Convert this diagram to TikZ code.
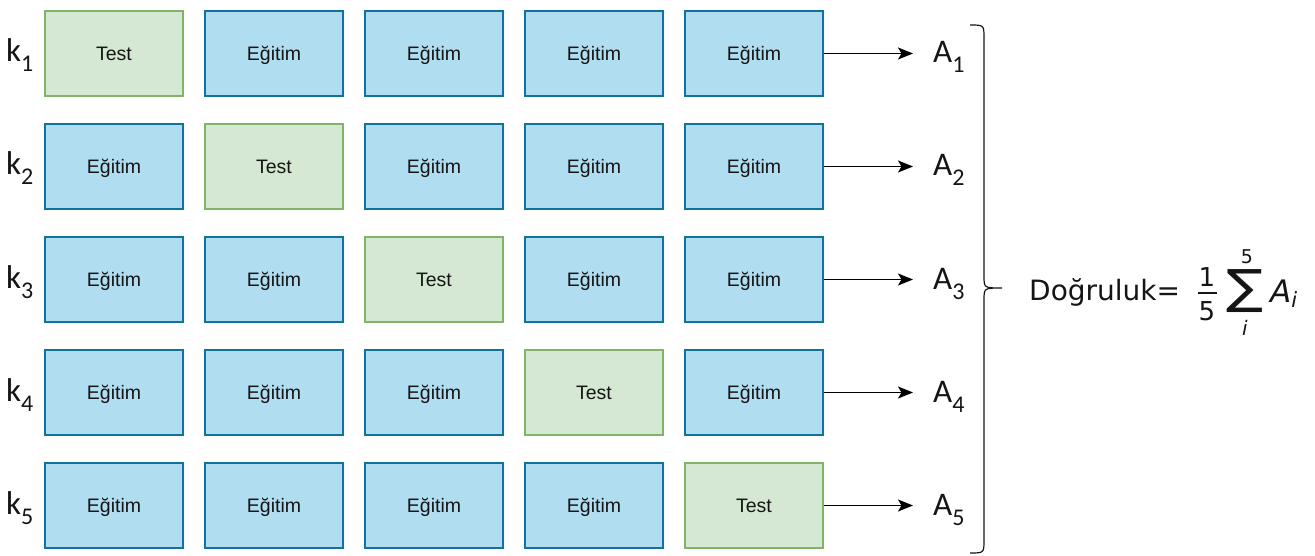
\documentclass[tikz,border=0pt]{standalone}
\usepackage{fontspec}
\usepackage{graphicx}
\setmainfont{Liberation Sans}
\newfontfamily\carl{Carlito}
\newfontfamily\dvs{DejaVu Sans}
\usetikzlibrary{arrows.meta}
\definecolor{bfill}{HTML}{B1DDF0}
\definecolor{bdraw}{HTML}{10739E}
\definecolor{gfill}{HTML}{D5E8D4}
\definecolor{gdraw}{HTML}{82B366}
\definecolor{txt}{HTML}{151515}
\newcommand{\lbl}[2]{{\carl\fontsize{33}{33}\selectfont #1\raisebox{-10pt}{\fontsize{24}{24}\selectfont #2}}}
\begin{document}
\begin{tikzpicture}[x=1pt,y=-1pt,
  cell/.style={minimum width=138pt, minimum height=85pt, line width=1.3pt, inner sep=0pt, text height=14pt, text depth=0pt, font=\fontsize{19.5}{21}\selectfont, text=txt},
  train/.style={cell, fill=bfill, draw=bdraw},
  testbox/.style={cell, fill=gfill, draw=gdraw},
  lab/.style={inner sep=0pt, anchor=base west, text=txt},
  arr/.style={line width=1.6pt, -{Stealth[length=15pt,width=12pt,inset=3.5pt]}},
]
\path[use as bounding box] (0,0) rectangle (1315,556);
\foreach \r in {1,...,5}{
  \foreach \c in {1,...,5}{
    \ifnum\r=\c
      \node[testbox] (b\r\c) at ({114+160*(\c-1)}, {53.5+113*(\r-1)}) {Test};
    \else
      \node[train] (b\r\c) at ({114+160*(\c-1)}, {53.5+113*(\r-1)}) {Eğitim};
    \fi
  }
  \node[lab] (k\r) at (6, {62+113*(\r-1)}) {\lbl{k}{\r}};
  \node[lab] (a\r) at (933, {63+113*(\r-1)}) {\lbl{A}{\r}};
  \draw[arr, shorten >=20pt] (b\r5.east) -- (b\r5.east -| a\r.west);
}
% brace
\draw[line width=1.2pt, txt] (970,25) .. controls (984,25) .. (984,38) -- (984,276)
  .. controls (984,288) .. (1002,288) .. controls (984,288) .. (984,300) -- (984,540)
  .. controls (984,553) .. (970,553);
% formula
\node[lab, font=\dvs\fontsize{28}{28}\selectfont] (dog) at (1029,300) {Doğruluk=};
\node[inner sep=0pt, text=txt, font=\dvs\fontsize{26}{26}\selectfont] (num) at (1207,277) {1};
\node[inner sep=0pt, text=txt, font=\dvs\fontsize{26}{26}\selectfont] (den) at (1207,311) {5};
\draw[line width=1.3pt, txt] (1198,293) -- (1217,293);
\node[inner sep=0pt, text=txt] (sum) at (1245,291) {\resizebox*{37pt}{43pt}{\dvs\fontsize{30}{30}\selectfont ∑}};
\node[inner sep=0pt, text=txt, font=\dvs\fontsize{19}{19}\selectfont] (up) at (1247,257) {5};
\node[inner sep=0pt, text=txt, font=\dvs\itshape\fontsize{20}{20}\selectfont] (lo) at (1245,328) {i};
\node[lab] (ai) at (1270,302) {\dvs\itshape\fontsize{31}{31}\selectfont A\raisebox{-5pt}{\fontsize{21}{21}\selectfont i}};
\end{tikzpicture}
\end{document}
